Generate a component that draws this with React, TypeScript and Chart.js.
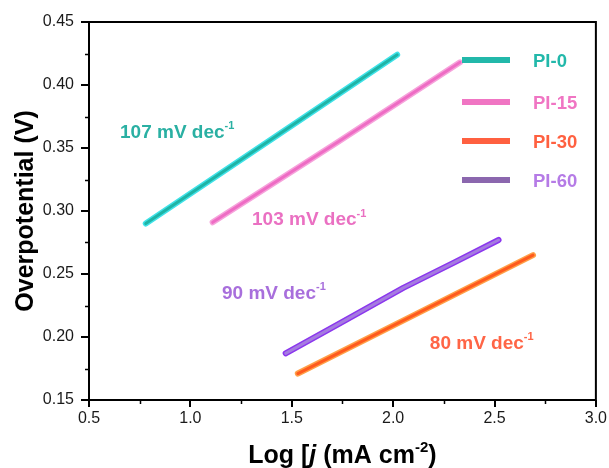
import React, { useEffect, useRef } from "react";
import { Chart, registerables } from "chart.js";

Chart.register(...registerables);

// ---- data ----
const seriesNames = ["PI-0", "PI-15", "PI-30", "PI-60"];
const pi0X = [0.78, 1.4, 2.02];
const pi0Y = [0.29, 0.357, 0.424];
const pi15X = [1.11, 1.72, 2.33];
const pi15Y = [0.291, 0.354, 0.418];
const pi30X = [1.53, 2.11, 2.69];
const pi30Y = [0.171, 0.218, 0.265];
const pi60X = [1.47, 1.75, 2.05, 2.3, 2.52];
const pi60Y = [0.187, 0.212, 0.239, 0.259, 0.277];
const tafelSlopes = ["107", "103", "80", "90"];
const xMinorTicks = [0.75, 1.25, 1.75, 2.25, 2.75];
const yMinorTicks = [0.175, 0.225, 0.275, 0.325, 0.375, 0.425];

const coreColors = ["#1FB4A6", "#EE6CC4", "#FF5A1E", "#A57BE0"];
const fringeColors = ["#3FE2E8", "#F6A3DB", "#FFA048", "#8B36EE"];
const legendLineColors = ["#22B8AA", "#F075C3", "#FF6040", "#8B67AE"];
const legendTextColors = ["#22B8AA", "#F075C3", "#FF6040", "#B57BE6"];
const labelColors = ["#2AB0A3", "#EA70C2", "#FF6546", "#A86FDC"];

const toPts = (xs: number[], ys: number[]) => xs.map((x, i) => ({ x, y: ys[i] }));
const allSeries = [toPts(pi0X, pi0Y), toPts(pi15X, pi15Y), toPts(pi30X, pi30Y), toPts(pi60X, pi60Y)];

type Seg = { t: string; italic?: boolean; sup?: boolean };

function drawRich(ctx: CanvasRenderingContext2D, segs: Seg[], size: number, x: number, y: number, align: "left" | "center") {
  const fontFor = (s: Seg) =>
    `${s.italic ? "italic " : ""}bold ${s.sup ? Math.round(size * 0.6) : size}px "Liberation Sans", Arial, sans-serif`;
  let total = 0;
  const widths = segs.map((s) => {
    ctx.font = fontFor(s);
    const w = ctx.measureText(s.t).width;
    total += w;
    return w;
  });
  let cx = align === "center" ? x - total / 2 : x;
  ctx.textBaseline = "alphabetic";
  ctx.textAlign = "left";
  segs.forEach((s, i) => {
    ctx.font = fontFor(s);
    ctx.fillText(s.t, cx, s.sup ? y - size * 0.45 : y);
    cx += widths[i];
  });
}

const overlay = {
  id: "overlay",
  afterDraw(chart: any) {
    const { ctx, chartArea: a, scales } = chart;
    const xs = scales.x;
    const ys = scales.y;
    ctx.save();
    // frame
    ctx.strokeStyle = "#000";
    ctx.lineWidth = 2;
    ctx.strokeRect(a.left, a.top, a.right - a.left, a.bottom - a.top);
    // minor ticks
    ctx.lineWidth = 1.5;
    ctx.beginPath();
    xMinorTicks.forEach((v) => {
      const px = Math.round(xs.getPixelForValue(v)) + 0.5;
      ctx.moveTo(px, a.bottom);
      ctx.lineTo(px, a.bottom + 4);
    });
    yMinorTicks.forEach((v) => {
      const py = Math.round(ys.getPixelForValue(v)) + 0.5;
      ctx.moveTo(a.left - 4, py);
      ctx.lineTo(a.left, py);
    });
    ctx.stroke();

    // axis titles
    ctx.fillStyle = "#000";
    drawRich(
      ctx,
      [{ t: "Log [" }, { t: "j", italic: true }, { t: " (mA cm" }, { t: "-2", sup: true }, { t: ")" }],
      25,
      (a.left + a.right) / 2,
      463,
      "center"
    );
    ctx.save();
    ctx.translate(33, (a.top + a.bottom) / 2);
    ctx.rotate(-Math.PI / 2);
    drawRich(ctx, [{ t: "Overpotential (V)" }], 25, 0, 0, "center");
    ctx.restore();

    // slope annotations (anchored in data coordinates)
    const anchors = [
      [0.653, 0.3635],
      [1.304, 0.2944],
      [2.181, 0.196],
      [1.156, 0.2357],
    ];
    anchors.forEach(([vx, vy], i) => {
      ctx.fillStyle = labelColors[i];
      drawRich(
        ctx,
        [{ t: `${tafelSlopes[i]} mV dec` }, { t: "-1", sup: true }],
        19,
        xs.getPixelForValue(vx),
        ys.getPixelForValue(vy) + 7,
        "left"
      );
    });

    // legend
    const rows = [60, 102, 141, 180];
    rows.forEach((ry, i) => {
      ctx.strokeStyle = legendLineColors[i];
      ctx.lineWidth = 6;
      ctx.lineCap = "butt";
      ctx.beginPath();
      ctx.moveTo(462, ry);
      ctx.lineTo(510, ry);
      ctx.stroke();
      ctx.fillStyle = legendTextColors[i];
      drawRich(ctx, [{ t: seriesNames[i] }], 18.5, 533, ry + 7, "left");
    });
    ctx.restore();
  },
};

export default function App() {
  const ref = useRef<HTMLCanvasElement | null>(null);
  useEffect(() => {
    document.body.style.margin = "0";
    const datasets: any[] = [];
    allSeries.forEach((pts, i) => {
      datasets.push({
        label: seriesNames[i] + " data",
        data: pts,
        showLine: true,
        borderColor: fringeColors[i],
        borderWidth: 6,
        borderCapStyle: "round",
        borderJoinStyle: "round",
        pointRadius: 0,
        tension: 0,
        order: 2,
      });
      datasets.push({
        label: seriesNames[i],
        data: pts,
        showLine: true,
        borderColor: coreColors[i],
        borderWidth: 3,
        borderCapStyle: "round",
        borderJoinStyle: "round",
        pointRadius: 0,
        tension: 0,
        order: 1,
      });
    });
    const chart = new Chart(ref.current as HTMLCanvasElement, {
      type: "scatter",
      data: { datasets },
      options: {
        animation: false,
        responsive: false,
        layout: { padding: { top: 22, right: 13, bottom: 0, left: 0 } },
        plugins: { legend: { display: false }, tooltip: { enabled: false } },
        scales: {
          x: {
            type: "linear",
            min: 0.5,
            max: 3.0,
            afterFit: (s: any) => {
              s.height = 68;
            },
            border: { display: false },
            grid: { drawOnChartArea: false, drawTicks: true, tickLength: 7, color: "#000", lineWidth: 2 },
            ticks: {
              stepSize: 0.5,
              padding: 2,
              color: "#1a1a1a",
              font: { family: '"Liberation Sans", Arial, sans-serif', size: 16 },
              callback: (v: any) => Number(v).toFixed(1),
            },
          },
          y: {
            type: "linear",
            min: 0.15,
            max: 0.45,
            afterFit: (s: any) => {
              s.width = 89;
            },
            border: { display: false },
            grid: { drawOnChartArea: false, drawTicks: true, tickLength: 8, color: "#000", lineWidth: 2 },
            ticks: {
              stepSize: 0.05,
              padding: 7,
              color: "#1a1a1a",
              font: { family: '"Liberation Sans", Arial, sans-serif', size: 16 },
              callback: (v: any) => Number(v).toFixed(2),
            },
          },
        },
      },
      plugins: [overlay],
    });
    return () => chart.destroy();
  }, []);
  return (
    <div style={{ width: 609, height: 468 }}>
      <canvas ref={ref} width={609} height={468} />
    </div>
  );
}
